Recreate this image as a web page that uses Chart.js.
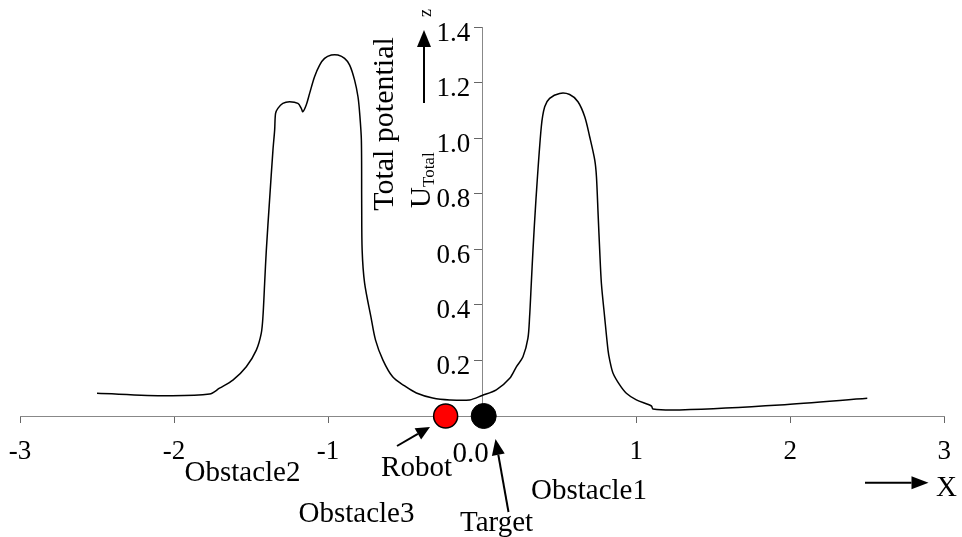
<!DOCTYPE html>
<html>
<head>
<meta charset="utf-8">
<script src="https://cdn.jsdelivr.net/npm/chart.js@4/dist/chart.umd.min.js"></script>
<style>
  html, body { margin: 0; padding: 0; background: #fff; }
  #wrap { width: 962px; height: 537px; position: relative; }
</style>
</head>
<body>
<div id="wrap"><canvas id="c" width="962" height="537"></canvas></div>
<script>
// ---- data ----
const curveX = [-2.5, -2.051, -1.769, -1.705, -1.618, -1.531, -1.466, -1.434, -1.423, -1.412, -1.401,
  -1.38, -1.358, -1.347, -1.341, -1.326, -1.294, -1.25, -1.196, -1.174, -1.164, -1.142, -1.12, -1.088,
  -1.055, -1.023, -0.979, -0.936, -0.893, -0.86, -0.828, -0.806, -0.795, -0.784, -0.782, -0.779,
  -0.763, -0.722, -0.692, -0.644, -0.581, -0.503, -0.427, -0.321, -0.211, -0.081, 0.0, 0.092, 0.179,
  0.222, 0.265, 0.297, 0.308, 0.319, 0.33, 0.349, 0.384, 0.406, 0.438, 0.503, 0.568, 0.622,
  0.666, 0.698, 0.731, 0.742, 0.753, 0.763, 0.774, 0.795, 0.817, 0.828, 0.849, 0.893, 0.936, 1.001,
  1.099, 1.109, 1.282, 1.932, 2.5];
const curveU = [0.082, 0.073, 0.079, 0.1, 0.129, 0.177, 0.237, 0.297, 0.357, 0.477, 0.597,
  0.777, 0.957, 1.029, 1.089, 1.107, 1.125, 1.131, 1.125, 1.107, 1.095, 1.119, 1.161, 1.221,
  1.263, 1.287, 1.299, 1.299, 1.287, 1.263, 1.209, 1.149, 1.089, 0.993, 0.777, 0.597,
  0.478, 0.357, 0.273, 0.201, 0.141, 0.108, 0.083, 0.065, 0.058, 0.058, 0.074, 0.094, 0.136,
  0.177, 0.213, 0.279, 0.357, 0.477, 0.597, 0.777, 1.041, 1.113, 1.143, 1.161, 1.157, 1.131,
  1.077, 1.005, 0.921, 0.861, 0.723, 0.597, 0.478, 0.357, 0.237, 0.201, 0.155, 0.112, 0.082, 0.058,
  0.036, 0.025, 0.022, 0.04, 0.064];
const robotPos = [-0.237, 0];
const targetPos = [0.01, 0];
const xTickValues = [-3, -2, -1, 0, 1, 2, 3];
const xTickLabels = ['-3', '-2', '-1', '', '1', '2', '3'];
const yTickValues = [0.2, 0.4, 0.6, 0.8, 1.0, 1.2, 1.4];
const yTickLabels = ['0.2', '0.4', '0.6', '0.8', '1.0', '1.2', '1.4'];

const FONT = "'Liberation Serif', 'Times New Roman', serif";

function arrow(ctx, x1, y1, x2, y2, headLen, headHalf) {
  const a = Math.atan2(y2 - y1, x2 - x1);
  const bx = x2 - headLen * Math.cos(a), by = y2 - headLen * Math.sin(a);
  ctx.beginPath();
  ctx.moveTo(x1, y1);
  ctx.lineTo(bx, by);
  ctx.lineWidth = 2;
  ctx.strokeStyle = '#000';
  ctx.stroke();
  ctx.beginPath();
  ctx.moveTo(x2, y2);
  ctx.lineTo(bx + headHalf * Math.sin(a), by - headHalf * Math.cos(a));
  ctx.lineTo(bx - headHalf * Math.sin(a), by + headHalf * Math.cos(a));
  ctx.closePath();
  ctx.fillStyle = '#000';
  ctx.fill();
}

const annotations = {
  id: 'annotations',
  afterDraw(chart) {
    const ctx = chart.ctx;
    const xs = chart.scales.x, ys = chart.scales.y;
    ctx.save();
    ctx.fillStyle = '#000';

    // y tick labels (left of the centred axis)
    const axisX = xs.getPixelForValue(0);
    ctx.font = '27px ' + FONT;
    ctx.textAlign = 'right';
    ctx.textBaseline = 'middle';
    ys.ticks.forEach(t => {
      const lbl = yTickLabels[yTickValues.indexOf(t.value)];
      if (lbl) ctx.fillText(lbl, axisX - 12, ys.getPixelForValue(t.value) + 6.5);
    });

    ctx.textBaseline = 'alphabetic';
    ctx.font = '29px ' + FONT;
    ctx.textAlign = 'center';
    ctx.fillText('Robot', 416.5, 476);
    ctx.fillText('0.0', 470.5, 461.5);
    ctx.fillText('Obstacle2', 242.5, 481);
    ctx.fillText('Obstacle3', 356.5, 522);
    ctx.fillText('Obstacle1', 589, 499);
    ctx.fillText('Target', 496.5, 531);
    ctx.textAlign = 'left';
    ctx.fillText('X', 936, 496);

    arrow(ctx, 397, 446, 430, 427, 14, 6.5);
    arrow(ctx, 508.5, 512, 495.5, 439, 16, 6.5);
    arrow(ctx, 865, 482.7, 928.5, 482.7, 17, 6.5);
    arrow(ctx, 424, 103, 424, 30, 17, 7);

    // rotated y titles
    ctx.save();
    ctx.translate(393, 124);
    ctx.rotate(-Math.PI / 2);
    ctx.textAlign = 'center';
    ctx.font = '30px ' + FONT;
    ctx.fillText('Total potential', 0, 0);
    ctx.restore();

    ctx.save();
    ctx.translate(430, 208);
    ctx.rotate(-Math.PI / 2);
    ctx.textAlign = 'left';
    ctx.font = '29px ' + FONT;
    ctx.fillText('U', 0, 0);
    const w = ctx.measureText('U').width;
    ctx.font = '17px ' + FONT;
    ctx.fillText('Total', w, 4);
    ctx.restore();

    ctx.save();
    ctx.translate(431, 13);
    ctx.rotate(-Math.PI / 2);
    ctx.textAlign = 'center';
    ctx.font = '18px ' + FONT;
    ctx.fillText('z', 0, 0);
    ctx.restore();

    ctx.restore();
  }
};

new Chart(document.getElementById('c'), {
  type: 'scatter',
  data: {
    datasets: [
      {
        data: curveX.map((x, i) => ({ x: x, y: curveU[i] })),
        showLine: true,
        borderColor: '#000',
        borderWidth: 1.5,
        pointRadius: 0,
        tension: 0.3,
        fill: false,
        clip: false
      },
      {
        data: [{ x: robotPos[0], y: robotPos[1] }],
        pointRadius: 12,
        pointHoverRadius: 12,
        backgroundColor: '#ff0000',
        borderColor: '#000',
        borderWidth: 1.5,
        clip: false
      },
      {
        data: [{ x: targetPos[0], y: targetPos[1] }],
        pointRadius: 12.5,
        pointHoverRadius: 12.5,
        backgroundColor: '#000',
        borderColor: '#000',
        borderWidth: 1,
        clip: false
      }
    ]
  },
  options: {
    responsive: false,
    animation: false,
    events: [],
    layout: { padding: { left: 20, right: 17.7, top: 27, bottom: 0 } },
    plugins: { legend: { display: false }, tooltip: { enabled: false } },
    scales: {
      x: {
        type: 'linear',
        position: 'bottom',
        min: -3,
        max: 3,
        afterBuildTicks: s => { s.ticks = xTickValues.map(v => ({ value: v })); },
        afterFit: s => { s.height = 121; },
        ticks: {
          callback: (v) => xTickLabels[xTickValues.indexOf(v)],
          font: { family: FONT, size: 27, lineHeight: 2.16 },
          color: '#000',
          padding: 0,
          maxRotation: 0,
          autoSkip: false
        },
        grid: { display: true, drawOnChartArea: false, drawTicks: true, tickLength: 7, color: '#666', tickWidth: 1 },
        border: { display: true, color: '#888', width: 1 }
      },
      y: {
        type: 'linear',
        position: { x: 0 },
        min: 0,
        max: 1.4,
        afterBuildTicks: s => { s.ticks = yTickValues.map(v => ({ value: v })); },
        ticks: { display: false },
        grid: { display: true, drawOnChartArea: false, drawTicks: true, tickLength: 8, color: '#666', tickWidth: 1 },
        border: { display: true, color: '#888', width: 1 }
      }
    }
  },
  plugins: [annotations]
});
</script>
</body>
</html>
